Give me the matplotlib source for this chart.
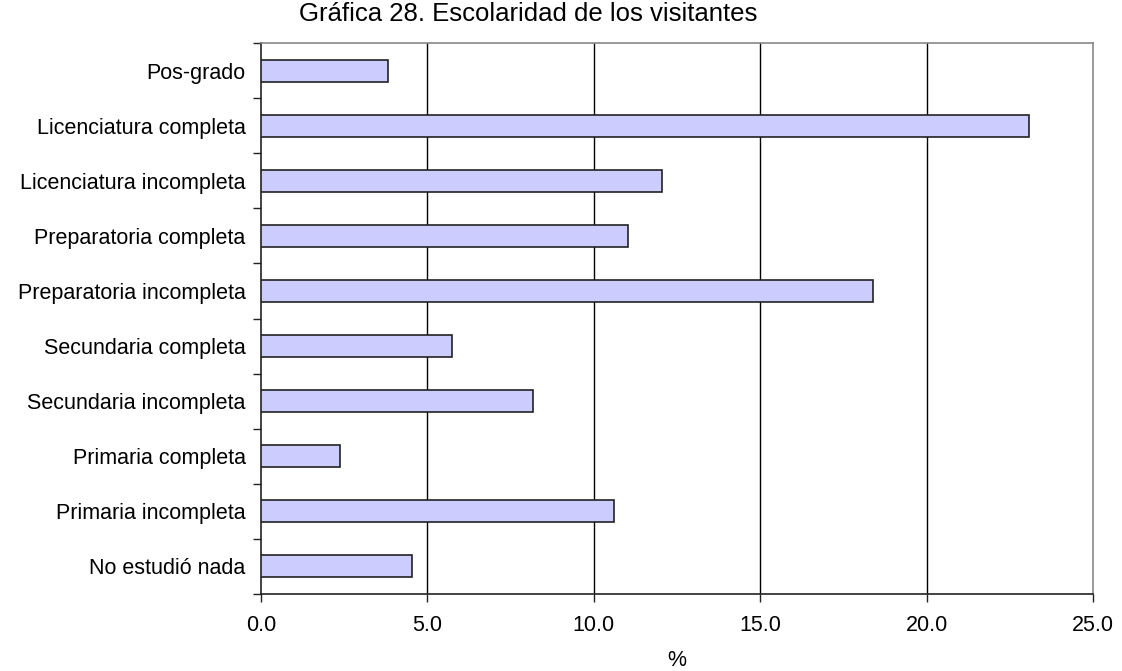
import matplotlib
matplotlib.use("Agg")
import matplotlib.pyplot as plt
import numpy as np
from matplotlib.ticker import FixedLocator

plt.rcParams["font.family"] = ["Liberation Sans", "DejaVu Sans"]

# ── Data ──────────────────────────────────────────────────────────────────────
categories = [
    "No estudió nada",
    "Primaria incompleta",
    "Primaria completa",
    "Secundaria incompleta",
    "Secundaria completa",
    "Preparatoria incompleta",
    "Preparatoria completa",
    "Licenciatura incompleta",
    "Licenciatura completa",
    "Pos-grado",
]
values = [4.54, 10.61, 2.37, 8.17, 5.74, 18.39, 11.03, 12.05, 23.08, 3.82]
x_ticks = [0, 5, 10, 15, 20, 25]

# ── Plot ──────────────────────────────────────────────────────────────────────
fig = plt.figure(figsize=(11.22, 6.71), dpi=100)
ax = fig.add_axes([261 / 1122, 1 - 594 / 671, (1093 - 261) / 1122, (594 - 43) / 671])

y = np.arange(len(categories))
ax.barh(y, values, height=0.4, color="#CCCCFF", edgecolor="#222222", linewidth=1.2, zorder=3)

ax.set_xlim(0, 25)
ax.set_ylim(-0.5, len(categories) - 0.5)
ax.set_xticks(x_ticks)
ax.set_xticklabels([f"{t:.1f}" for t in x_ticks], fontsize=15.5)
ax.set_yticks(y)
ax.set_yticklabels(categories, fontsize=15.5)
ax.tick_params(axis="y", which="major", length=0, pad=11)
ax.yaxis.set_minor_locator(FixedLocator(np.arange(-0.5, len(categories), 1.0)))
ax.tick_params(axis="y", which="minor", length=6, width=1, color="#222222")
ax.tick_params(axis="x", which="major", length=6, width=1, color="#222222", pad=9)

for t in x_ticks[1:-1]:
    ax.axvline(t, color="black", linewidth=1, zorder=1)

ax.spines["left"].set_color("#222222")
ax.spines["bottom"].set_color("#222222")
ax.spines["top"].set_color("#888888")
ax.spines["right"].set_color("#888888")
for s in ax.spines.values():
    s.set_linewidth(1.2)

ax.set_xlabel("%", fontsize=15.5, labelpad=10)
fig.text(528 / 1122, 1 - 14 / 671, "Gráfica 28. Escolaridad de los visitantes",
         ha="center", va="center", fontsize=18.5)

fig.savefig("out.png", dpi=100)
